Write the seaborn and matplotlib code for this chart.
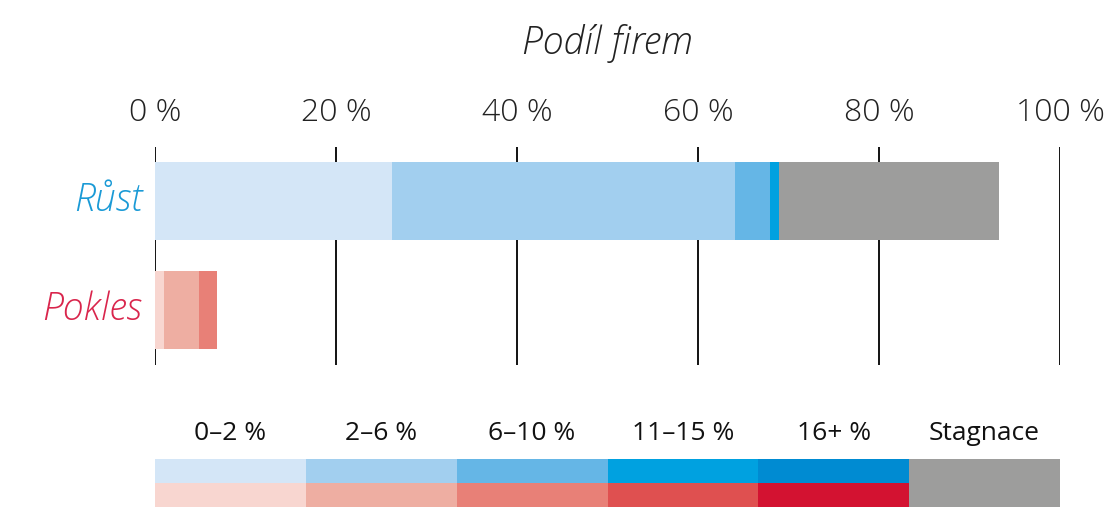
import numpy as np
import pandas as pd
import matplotlib
matplotlib.use("Agg")
import matplotlib.pyplot as plt
import seaborn as sns
from matplotlib.colors import ListedColormap

# data (share of firms, %)
categories = ["Růst", "Pokles"]
segments = ["0–2 %", "2–6 %", "6–10 %", "11–15 %", "16+ %", "Stagnace"]
rust_values = [26.2, 37.9, 3.9, 1.0, 0.0, 24.3]
pokles_values = [1.0, 3.9, 2.0, 0.0, 0.0, 0.0]
tick_values = [0, 20, 40, 60, 80, 100]
tick_labels = ["0 %", "20 %", "40 %", "60 %", "80 %", "100 %"]

blues = ["#d4e6f7", "#a2cfef", "#65b6e6", "#00a1e0", "#008bd2", "#9d9d9c"]
reds = ["#f8d6d0", "#eeaea2", "#e88077", "#df5050", "#d31231", "#9d9d9c"]
label_colors = {"Růst": "#1a9ad6", "Pokles": "#d9254c"}

sns.set_theme(style="white")
plt.rcParams["font.family"] = ["Open Sans", "DejaVu Sans"]

fig = plt.figure(figsize=(11.12, 5.08), dpi=100)
ax = fig.add_axes([155 / 1112, 143 / 508, 905 / 1112, 218 / 508])

# stacked bars: draw cumulative totals from the largest down
cum_rust = np.cumsum(rust_values)
cum_pokles = np.cumsum(pokles_values)
for i in range(len(segments) - 1, -1, -1):
    df = pd.DataFrame({"kategorie": categories, "podil": [cum_rust[i], cum_pokles[i]]})
    sns.barplot(data=df, x="podil", y="kategorie", hue="kategorie", orient="h",
                palette={"Růst": blues[i], "Pokles": reds[i]}, width=0.716,
                legend=False, ax=ax, linewidth=0, saturation=1)

ax.set_xlim(0, 100)
ax.set_ylim(1.505, -0.495)
ax.set_axisbelow(True)
ax.xaxis.grid(True, color="black", linewidth=1.3)
ax.yaxis.grid(False)
for s in ax.spines.values():
    s.set_visible(False)

ax.xaxis.tick_top()
ax.xaxis.set_label_position("top")
ax.set_xticks(tick_values)
ax.set_xticklabels(tick_labels, fontsize=23, fontweight=300, color="#222222")
ax.tick_params(axis="x", length=0, pad=13)
ax.set_xlabel("Podíl firem", fontsize=27, fontstyle="italic", fontweight=300,
              color="#222222", labelpad=31)

# category names to the left of the bars
ax.set_ylabel("")
ax.set_yticks([0, 1])
ax.set_yticklabels([])
ax.tick_params(axis="y", length=0)
for i, cat in enumerate(categories):
    ax.text(-0.014, i - 0.005, cat, transform=ax.get_yaxis_transform(),
            ha="right", va="center", fontsize=27, fontstyle="italic",
            fontweight=300, color=label_colors[cat])

# legend as a colour grid
lax = fig.add_axes([155 / 1112, 1 / 508, 905 / 1112, 48 / 508])
grid = np.array([np.arange(6), np.arange(6, 12)])
grid[1, 5] = 5
sns.heatmap(grid, cmap=ListedColormap(blues + reds), vmin=-0.5, vmax=11.5,
            cbar=False, ax=lax, linewidths=0)
lax.xaxis.tick_top()
lax.set_xticks(np.arange(6) + 0.5)
lax.set_xticklabels(segments, fontsize=19, color="#111111")
lax.set_yticks([])
lax.tick_params(axis="x", length=0, pad=9)

fig.savefig("out.png", dpi=100)
